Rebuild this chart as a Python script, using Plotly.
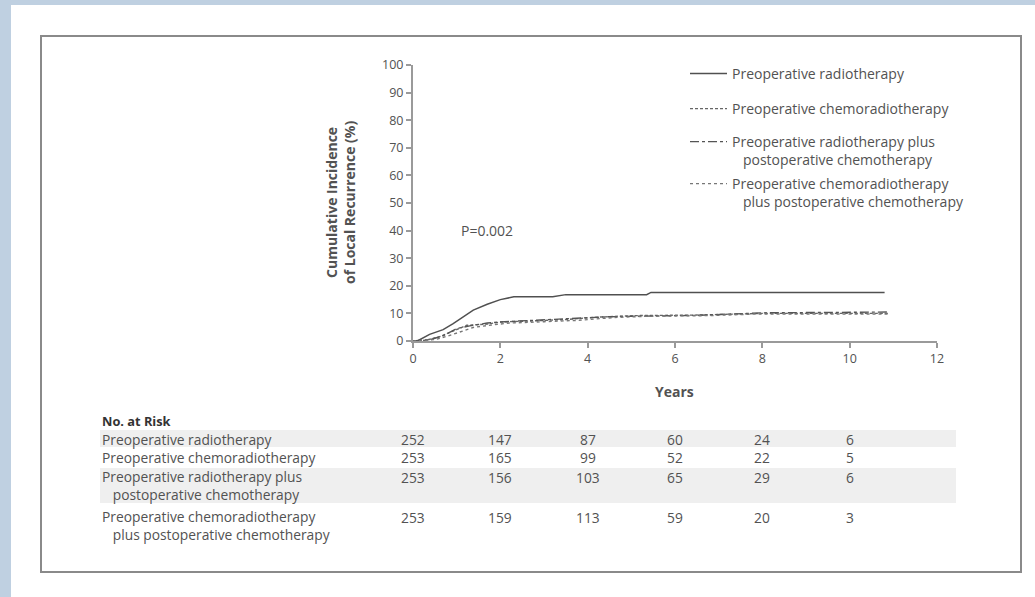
import plotly.graph_objects as go

# ---------------- data ----------------
series_names = [
    "Preoperative radiotherapy",
    "Preoperative chemoradiotherapy",
    "Preoperative radiotherapy plus<br>\u00a0\u00a0\u00a0postoperative chemotherapy",
    "Preoperative chemoradiotherapy<br>\u00a0\u00a0\u00a0plus postoperative chemotherapy",
]

t_rt = [0, 0.1, 0.38, 0.69, 0.92, 1.15, 1.38, 1.7, 2.0, 2.31, 3.2, 3.5, 5.35, 5.45, 10.8]
v_rt = [0, 0, 2.4, 4.1, 6.3, 8.7, 11.2, 13.3, 15.0, 16.0, 16.0, 16.8, 16.8, 17.6, 17.6]

t_crt = [0, 0.3, 0.6, 0.92, 1.23, 1.7, 2.0, 2.77, 3.5, 4.3, 5.1, 6.5, 8.0, 10.9]
v_crt = [0, 0.3, 1.5, 3.6, 5.7, 6.1, 6.9, 7.3, 7.8, 8.7, 9.2, 9.4, 10.0, 10.0]

t_rtc = [0, 0.4, 0.7, 1.0, 1.3, 1.7, 2.1, 2.8, 3.6, 4.5, 5.2, 6.5, 8.0, 10.9]
v_rtc = [0, 0.5, 2.0, 4.5, 5.5, 6.5, 7.0, 7.5, 8.0, 8.8, 9.0, 9.3, 10.2, 10.5]

t_crtc = [0, 0.5, 0.8, 1.1, 1.4, 1.8, 2.2, 3.0, 3.8, 4.6, 5.4, 6.8, 7.9, 10.9]
v_crtc = [0, 0.5, 1.8, 3.5, 5.0, 5.8, 6.5, 7.0, 7.5, 8.5, 9.0, 9.2, 9.8, 9.8]

risk_years = [0, 2, 4, 6, 8, 10]
risk_labels = [
    "Preoperative radiotherapy",
    "Preoperative chemoradiotherapy",
    "Preoperative radiotherapy plus<br>\u00a0\u00a0\u00a0postoperative chemotherapy",
    "Preoperative chemoradiotherapy<br>\u00a0\u00a0\u00a0plus postoperative chemotherapy",
]
risk_rt = [252, 147, 87, 60, 24, 6]
risk_crt = [253, 165, 99, 52, 22, 5]
risk_rtc = [253, 156, 103, 65, 29, 6]
risk_crtc = [253, 159, 113, 59, 20, 3]

x_ticks = [0, 2, 4, 6, 8, 10, 12]
y_ticks = [0, 10, 20, 30, 40, 50, 60, 70, 80, 90, 100]

# ---------------- layout helpers ----------------
W, H = 1035, 597
L, R, T, B = 413, 937, 65, 341  # plot area in pixels


def px2x(px):
    return (px - L) / (R - L)


def py2y(py):
    return (B - py) / (B - T)


FONT = "Open Sans"
TXT = "#525252"
BIG = 13.8

fig = go.Figure()
styles = [
    dict(color="#505050", width=1.5, dash="solid"),
    dict(color="#666666", width=1.4, dash="3px,2px"),
    dict(color="#555555", width=1.4, dash="dashdot"),
    dict(color="#777777", width=1.4, dash="dot"),
]
legend_ids = ["legend", "legend2", "legend3", "legend4"]
for i, (tt, vv) in enumerate([(t_rt, v_rt), (t_crt, v_crt), (t_rtc, v_rtc), (t_crtc, v_crtc)]):
    fig.add_trace(go.Scatter(x=tt, y=vv, mode="lines", name=series_names[i],
                             line=styles[i], legend=legend_ids[i]))

shapes = [
    dict(type="rect", xref="paper", yref="paper", x0=px2x(11), x1=px2x(W + 10),
         y0=py2y(H + 10), y1=py2y(5), fillcolor="white", line=dict(width=0), layer="below"),
    dict(type="rect", xref="paper", yref="paper", x0=px2x(41), x1=px2x(1021),
         y0=py2y(572), y1=py2y(36), fillcolor="rgba(0,0,0,0)",
         line=dict(color="#8a8a8a", width=2), layer="below"),
    dict(type="rect", xref="paper", yref="paper", x0=px2x(100), x1=px2x(956),
         y0=py2y(447), y1=py2y(430), fillcolor="#efefef", line=dict(width=0), layer="below"),
    dict(type="rect", xref="paper", yref="paper", x0=px2x(100), x1=px2x(956),
         y0=py2y(503), y1=py2y(468), fillcolor="#efefef", line=dict(width=0), layer="below"),
]

ann = []
ann.append(dict(text="P=0.002", x=px2x(459), y=py2y(230), xref="paper", yref="paper",
                xanchor="left", yanchor="middle", showarrow=False,
                font=dict(family=FONT, size=14, color=TXT)))
ann.append(dict(text="<b>Cumulative Incidence<br>of Local Recurrence (%)</b>", x=px2x(340), y=py2y(203),
                xref="paper", yref="paper", textangle=-90, showarrow=False,
                xanchor="center", yanchor="middle",
                font=dict(family=FONT, size=14, color=TXT)))
ann.append(dict(text="<b>Years</b>", x=px2x(674), y=py2y(391), xref="paper", yref="paper",
                showarrow=False, xanchor="center", yanchor="middle",
                font=dict(family=FONT, size=14, color=TXT)))
ann.append(dict(text="<b>No. at Risk</b>", x=px2x(100), y=py2y(421), xref="paper", yref="paper",
                showarrow=False, xanchor="left", yanchor="middle",
                font=dict(family=FONT, size=12.8, color="#333")))

row_y = [439, 458, 477, 517]
row_lines = [1, 1, 2, 2]
rows = [risk_rt, risk_crt, risk_rtc, risk_crtc]
for i, lab in enumerate(risk_labels):
    yc = row_y[i] + (row_lines[i] - 1) * 8.8
    ann.append(dict(text=lab, x=px2x(100), y=py2y(yc), xref="paper", yref="paper",
                    showarrow=False, xanchor="left", yanchor="middle", align="left",
                    font=dict(family=FONT, size=BIG, color=TXT)))
    for yr, val in zip(risk_years, rows[i]):
        ann.append(dict(text=str(val), x=yr, y=py2y(row_y[i]), xref="x", yref="paper",
                        showarrow=False, xanchor="center", yanchor="middle",
                        font=dict(family=FONT, size=BIG, color=TXT)))

legend_first_line = [73, 108, 141, 183]
legend_common = dict(xanchor="left", yanchor="top", bgcolor="rgba(0,0,0,0)",
                     font=dict(family=FONT, size=14, color=TXT), itemwidth=37, valign="top")
legends = {}
for i, lid in enumerate(legend_ids):
    legends[lid] = dict(x=px2x(685), y=py2y(legend_first_line[i] - 15), **legend_common)

fig.update_layout(
    width=W, height=H,
    margin=dict(l=L, r=W - R, t=T, b=H - B, pad=0),
    paper_bgcolor="#bfd0e1",
    plot_bgcolor="white",
    shapes=shapes,
    annotations=ann,
    showlegend=True,
    xaxis=dict(range=[0, 12], tickvals=x_ticks, showgrid=False, zeroline=False,
               showline=True, linecolor="#9a9a9a", linewidth=2,
               ticks="outside", ticklen=5, tickcolor="#9a9a9a", tickwidth=1.5,
               tickfont=dict(family=FONT, size=12.5, color=TXT), fixedrange=True),
    yaxis=dict(range=[0, 100], tickvals=y_ticks, showgrid=False, zeroline=False,
               showline=True, linecolor="#9a9a9a", linewidth=2,
               ticks="outside", ticklen=5, tickcolor="#9a9a9a", tickwidth=1.5,
               tickfont=dict(family=FONT, size=12.5, color=TXT), fixedrange=True),
    **legends,
)

fig.write_html("out.html")
